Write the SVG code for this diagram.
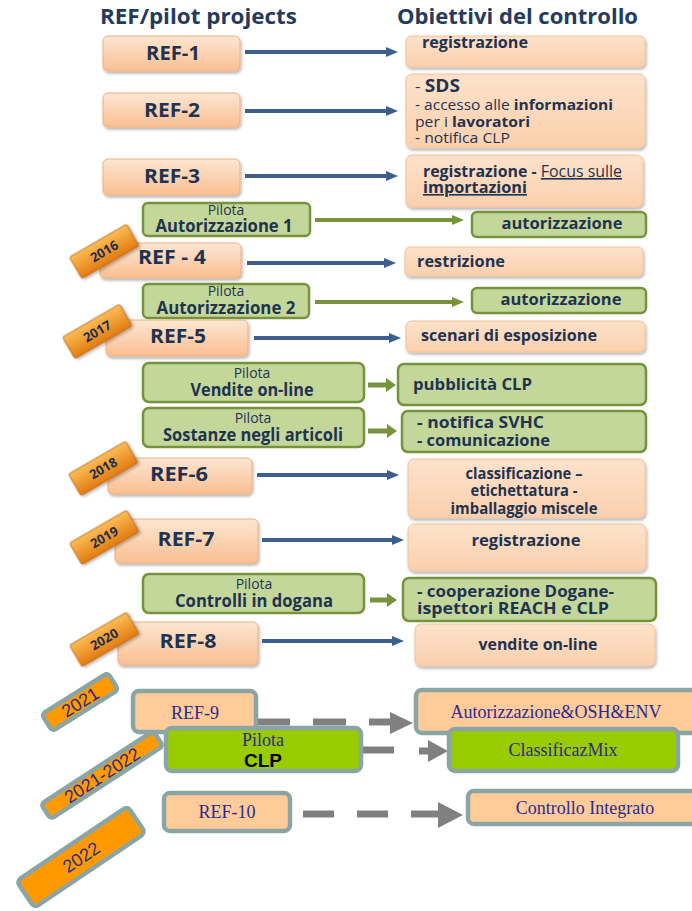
<svg xmlns="http://www.w3.org/2000/svg" width="692" height="911" viewBox="0 0 692 911">
<defs>
<linearGradient id="gp" x1="0" y1="0" x2="0" y2="1"><stop offset="0" stop-color="#fde6d2"/><stop offset="1" stop-color="#f9bf92"/></linearGradient>
<linearGradient id="gq" x1="0" y1="0" x2="0" y2="1"><stop offset="0" stop-color="#fde2cb"/><stop offset="1" stop-color="#fad0ad"/></linearGradient>
<linearGradient id="go" x1="0" y1="0" x2="0" y2="1"><stop offset="0" stop-color="#fbbd55"/><stop offset="1" stop-color="#e27a10"/></linearGradient>
<filter id="sh" x="-10%" y="-10%" width="125%" height="140%"><feDropShadow dx="1" dy="2" stdDeviation="1.5" flood-color="#000" flood-opacity="0.3"/></filter>
<marker id="mb" viewBox="0 0 12 10" refX="2" refY="5" markerWidth="12" markerHeight="10" markerUnits="userSpaceOnUse" orient="auto"><path d="M0,0 L12,5 L0,10z" fill="#3d5f8f"/></marker>
<marker id="mg" viewBox="0 0 12 10" refX="2" refY="5" markerWidth="12" markerHeight="10" markerUnits="userSpaceOnUse" orient="auto"><path d="M0,0 L12,5 L0,10z" fill="#77933c"/></marker>
<marker id="mg2" viewBox="0 0 10 14" refX="2" refY="7" markerWidth="10" markerHeight="14" markerUnits="userSpaceOnUse" orient="auto"><path d="M0,0 L10,7 L0,14z" fill="#77933c"/></marker>
<style>
.t{font-family:"Open Sans","Liberation Sans",sans-serif;fill:#1f3350}
text[textLength]{}
.h{font-size:22px;font-weight:bold;fill:#243b5c}
.r{font-size:19px;font-weight:bold;text-anchor:middle}
.b{font-size:16px;font-weight:bold}
.n{font-size:15px;font-weight:normal}
.p{font-size:14px;font-weight:normal;text-anchor:middle}
.q{font-size:17px;font-weight:bold;text-anchor:middle}
.c{text-anchor:middle}
.ref{fill:url(#gp);stroke:#f0b080;stroke-width:1;filter:url(#sh)}
.obj{fill:url(#gq);stroke:#f3c29a;stroke-width:1;filter:url(#sh)}
.pil{fill:#c4d79b;stroke:#76923c;stroke-width:2.5}
.tag{fill:url(#go);stroke:#b5651d;stroke-width:0.8;filter:url(#sh)}
.ty{font-family:"Open Sans","Liberation Sans",sans-serif;font-size:13px;font-weight:bold;fill:#1f2d4e;text-anchor:middle}
.ab{stroke:#3d5f8f;stroke-width:4;fill:none;marker-end:url(#mb)}
.ag{stroke:#77933c;stroke-width:4;fill:none;marker-end:url(#mg)}
.ag2{stroke:#77933c;stroke-width:5;fill:none;marker-end:url(#mg2)}
.bx{stroke:#8ba5a5;stroke-width:4.5}
.pe{fill:#ffcc99}
.gr{fill:#99cc00}
.og{fill:#ff9900}
.tm{font-family:"Liberation Serif","Times New Roman",serif;font-size:18px;fill:#2b2b8f;text-anchor:middle}
.ar{font-family:"Liberation Sans",Arial,sans-serif;font-size:18px;fill:#2b2b8f;text-anchor:middle}
.gd{stroke:#808080;stroke-width:7;fill:none}
.gh{fill:#808080}
</style>
</defs>
<rect width="692" height="911" fill="#ffffff"/>
<g id="titles">
<text class="t h" x="100" y="24" textLength="197" lengthAdjust="spacingAndGlyphs">REF/pilot projects</text>
<text class="t h" x="397" y="24" textLength="241" lengthAdjust="spacingAndGlyphs">Obiettivi del controllo</text>
</g>
<g id="connectors">
<path class="ab" d="M245,52 H388"/>
<path class="ab" d="M245,111 H388"/>
<path class="ab" d="M245,176 H388"/>
<path class="ag" d="M315,220 H454"/>
<path class="ab" d="M247,263 H386"/>
<path class="ag" d="M315,302 H454"/>
<path class="ab" d="M254,338 H391"/>
<path class="ag2" d="M368,385 H388"/>
<path class="ag2" d="M368,431 H389"/>
<path class="ab" d="M257,475 H389"/>
<path class="ab" d="M262,540 H394"/>
<path class="ag2" d="M370,600 H389"/>
<path class="ab" d="M262,641 H394"/>
<path class="gd" d="M257,722 H290 M313,722 H346 M369,722 H392"/>
<polygon class="gh" points="390,712 413,723 390,734"/>
<path class="gd" d="M362,750 H394 M419,751 H430"/>
<polygon class="gh" points="428,740 448,751 428,762"/>
<path class="gd" d="M303,814 H334 M357,814 H388 M411,814 H440"/>
<polygon class="gh" points="438,802 463,815 438,828"/>
</g>
<g id="ref1"><rect class="ref" x="103" y="36" width="137" height="35" rx="5"/><text class="t r" x="173" y="60" textLength="54" lengthAdjust="spacingAndGlyphs">REF-1</text></g>
<g id="obj1"><rect class="obj" x="406" y="36" width="239" height="31" rx="5"/><text class="t b" x="422" y="48" textLength="106" lengthAdjust="spacingAndGlyphs">registrazione</text></g>
<g id="ref2"><rect class="ref" x="103" y="93" width="137" height="34" rx="5"/><text class="t r" x="172" y="117" textLength="56" lengthAdjust="spacingAndGlyphs">REF-2</text></g>
<g id="obj2"><rect class="obj" x="406" y="74" width="239" height="74" rx="6"/>
<text class="t n" x="415" y="92" textLength="45" lengthAdjust="spacingAndGlyphs">- <tspan font-weight="bold" font-size="17">SDS</tspan></text>
<text class="t n" x="415" y="110" textLength="198" lengthAdjust="spacingAndGlyphs">- accesso alle <tspan font-weight="bold">informazioni</tspan></text>
<text class="t n" x="415" y="127" textLength="115" lengthAdjust="spacingAndGlyphs">per i <tspan font-weight="bold">lavoratori</tspan></text>
<text class="t n" x="415" y="143" textLength="95" lengthAdjust="spacingAndGlyphs">- notifica CLP</text></g>
<g id="ref3"><rect class="ref" x="103" y="159" width="137" height="36" rx="5"/><text class="t r" x="172" y="183" textLength="56" lengthAdjust="spacingAndGlyphs">REF-3</text></g>
<g id="obj3"><rect class="obj" x="406" y="155" width="237" height="52" rx="6"/>
<text class="t b" x="423" y="177" font-size="15.5" textLength="199" lengthAdjust="spacingAndGlyphs">registrazione - <tspan font-weight="normal" text-decoration="underline">Focus sulle</tspan></text>
<text class="t b" x="423" y="193" font-size="15.5" textLength="104" lengthAdjust="spacingAndGlyphs" text-decoration="underline">importazioni</text></g>
<g id="pil1"><rect class="pil" x="143" y="203" width="167" height="33" rx="5"/><text class="t p" x="226" y="215">Pilota</text><text class="t q" x="224" y="232" textLength="137" lengthAdjust="spacingAndGlyphs">Autorizzazione 1</text></g>
<g id="obj4"><rect class="pil" x="472" y="212" width="174" height="25" rx="5"/><text class="t b c" x="562" y="229" textLength="121" lengthAdjust="spacingAndGlyphs">autorizzazione</text></g>
<g id="ref4"><rect class="ref" x="100" y="243" width="141" height="35" rx="5"/><text class="t r" x="172" y="264" textLength="68" lengthAdjust="spacingAndGlyphs">REF - 4</text></g>
<g id="obj5"><rect class="obj" x="405" y="247" width="238" height="29" rx="5"/><text class="t b" x="417" y="267" textLength="88" lengthAdjust="spacingAndGlyphs">restrizione</text></g>
<g id="pil2"><rect class="pil" x="143" y="284" width="166" height="34" rx="5"/><text class="t p" x="226" y="296">Pilota</text><text class="t q" x="226" y="314" textLength="139" lengthAdjust="spacingAndGlyphs">Autorizzazione 2</text></g>
<g id="obj6"><rect class="pil" x="472" y="288" width="174" height="25" rx="5"/><text class="t b c" x="561" y="305" textLength="121" lengthAdjust="spacingAndGlyphs">autorizzazione</text></g>
<g id="ref5"><rect class="ref" x="106" y="320" width="142" height="36" rx="5"/><text class="t r" x="178" y="343" textLength="56" lengthAdjust="spacingAndGlyphs">REF-5</text></g>
<g id="obj7"><rect class="obj" x="406" y="321" width="239" height="31" rx="5"/><text class="t b" x="421" y="341" textLength="176" lengthAdjust="spacingAndGlyphs">scenari di esposizione</text></g>
<g id="pil3"><rect class="pil" x="143" y="363" width="221" height="39" rx="6"/><text class="t p" x="252" y="378">Pilota</text><text class="t q" x="252" y="396" textLength="123" lengthAdjust="spacingAndGlyphs">Vendite on-line</text></g>
<g id="obj8"><rect class="pil" x="398" y="364" width="248" height="41" rx="6"/><text class="t b" x="413" y="390" font-size="17" textLength="119" lengthAdjust="spacingAndGlyphs">pubblicità CLP</text></g>
<g id="pil4"><rect class="pil" x="143" y="408" width="221" height="39" rx="6"/><text class="t p" x="253" y="423">Pilota</text><text class="t q" x="253" y="441" textLength="180" lengthAdjust="spacingAndGlyphs">Sostanze negli articoli</text></g>
<g id="obj9"><rect class="pil" x="402" y="411" width="244" height="41" rx="6"/><text class="t b" x="417" y="428" textLength="127" lengthAdjust="spacingAndGlyphs">- notifica SVHC</text><text class="t b" x="417" y="446" textLength="133" lengthAdjust="spacingAndGlyphs">- comunicazione</text></g>
<g id="ref6"><rect class="ref" x="108" y="458" width="144" height="36" rx="5"/><text class="t r" x="179" y="481" textLength="58" lengthAdjust="spacingAndGlyphs">REF-6</text></g>
<g id="obj10"><rect class="obj" x="408" y="459" width="237" height="59" rx="6"/><text class="t b c" x="524" y="479" font-size="15" textLength="117" lengthAdjust="spacingAndGlyphs">classificazione –</text><text class="t b c" x="524" y="496" font-size="15" textLength="107" lengthAdjust="spacingAndGlyphs">etichettatura -</text><text class="t b c" x="524" y="514" font-size="15" textLength="147" lengthAdjust="spacingAndGlyphs">imballaggio miscele</text></g>
<g id="ref7"><rect class="ref" x="115" y="519" width="143" height="44" rx="5"/><text class="t r" x="186" y="546" textLength="57" lengthAdjust="spacingAndGlyphs">REF-7</text></g>
<g id="obj11"><rect class="obj" x="408" y="524" width="238" height="47" rx="6"/><text class="t b c" x="526" y="546" textLength="109" lengthAdjust="spacingAndGlyphs">registrazione</text></g>
<g id="pil5"><rect class="pil" x="143" y="574" width="221" height="39" rx="6"/><text class="t p" x="254" y="589">Pilota</text><text class="t q" x="254" y="607" textLength="158" lengthAdjust="spacingAndGlyphs">Controlli in dogana</text></g>
<g id="obj12"><rect class="pil" x="403" y="578" width="253" height="43" rx="6"/><text class="t b" x="417" y="597" textLength="197" lengthAdjust="spacingAndGlyphs">- cooperazione Dogane-</text><text class="t b" x="417" y="614" textLength="192" lengthAdjust="spacingAndGlyphs">ispettori REACH e CLP</text></g>
<g id="ref8"><rect class="ref" x="118" y="622" width="140" height="43" rx="5"/><text class="t r" x="188" y="648" textLength="57" lengthAdjust="spacingAndGlyphs">REF-8</text></g>
<g id="obj13"><rect class="obj" x="415" y="624" width="240" height="42" rx="6"/><text class="t b c" x="538" y="650" textLength="119" lengthAdjust="spacingAndGlyphs">vendite on-line</text></g>
<g id="y2016" transform="translate(104,251) rotate(-30)"><rect class="tag" x="-33" y="-12" width="66" height="25" rx="2"/><text class="ty" x="0" y="5">2016</text></g>
<g id="y2017" transform="translate(97,331) rotate(-30)"><rect class="tag" x="-33" y="-12" width="66" height="25" rx="2"/><text class="ty" x="0" y="5">2017</text></g>
<g id="y2018" transform="translate(103,468) rotate(-30)"><rect class="tag" x="-33" y="-12" width="66" height="25" rx="2"/><text class="ty" x="0" y="5">2018</text></g>
<g id="y2019" transform="translate(104,537) rotate(-30)"><rect class="tag" x="-33" y="-12" width="66" height="25" rx="2"/><text class="ty" x="0" y="5">2019</text></g>
<g id="y2020" transform="translate(104,639) rotate(-30)"><rect class="tag" x="-33" y="-12" width="66" height="25" rx="2"/><text class="ty" x="0" y="5">2020</text></g>
<g id="ref9"><rect class="bx pe" x="133" y="691" width="123" height="41" rx="6"/><text class="tm" x="195" y="719">REF-9</text></g>
<g id="y2021" transform="translate(80,702) rotate(-32)"><rect class="bx og" x="-39" y="-10" width="78" height="20" rx="4"/><text class="ar" x="0" y="6.5">2021</text></g>
<g id="obj14"><rect class="bx pe" x="416" y="690" width="290" height="43" rx="6"/><text class="tm" x="556" y="718">Autorizzazione&amp;OSH&amp;ENV</text></g>
<g id="y20212022" transform="translate(102,775) rotate(-33)"><rect class="bx og" x="-67" y="-9" width="134" height="18" rx="4"/><text class="ar" x="0" y="6.5">2021-2022</text></g>
<g id="pilclp"><rect class="bx gr" x="166" y="728" width="195" height="43" rx="6"/><text class="tm" x="263" y="746" font-size="15">Pilota</text><text x="263" y="767" font-family="'Liberation Sans',Arial,sans-serif" font-size="19" font-weight="bold" fill="#000" text-anchor="middle">CLP</text></g>
<g id="obj15"><rect class="bx gr" x="449" y="729" width="229" height="42" rx="6"/><text class="tm" x="563" y="756">ClassificazMix</text></g>
<g id="ref10"><rect class="bx pe" x="164" y="793" width="126" height="38" rx="6"/><text class="tm" x="227" y="818">REF-10</text></g>
<g id="obj16"><rect class="bx pe" x="468" y="791" width="240" height="33" rx="6"/><text class="tm" x="585" y="814">Controllo Integrato</text></g>
<g id="y2022" transform="translate(81,857) rotate(-34)"><rect class="bx og" x="-67" y="-16" width="134" height="32" rx="5"/><text class="ar" x="0" y="6.5">2022</text></g>
</svg>
